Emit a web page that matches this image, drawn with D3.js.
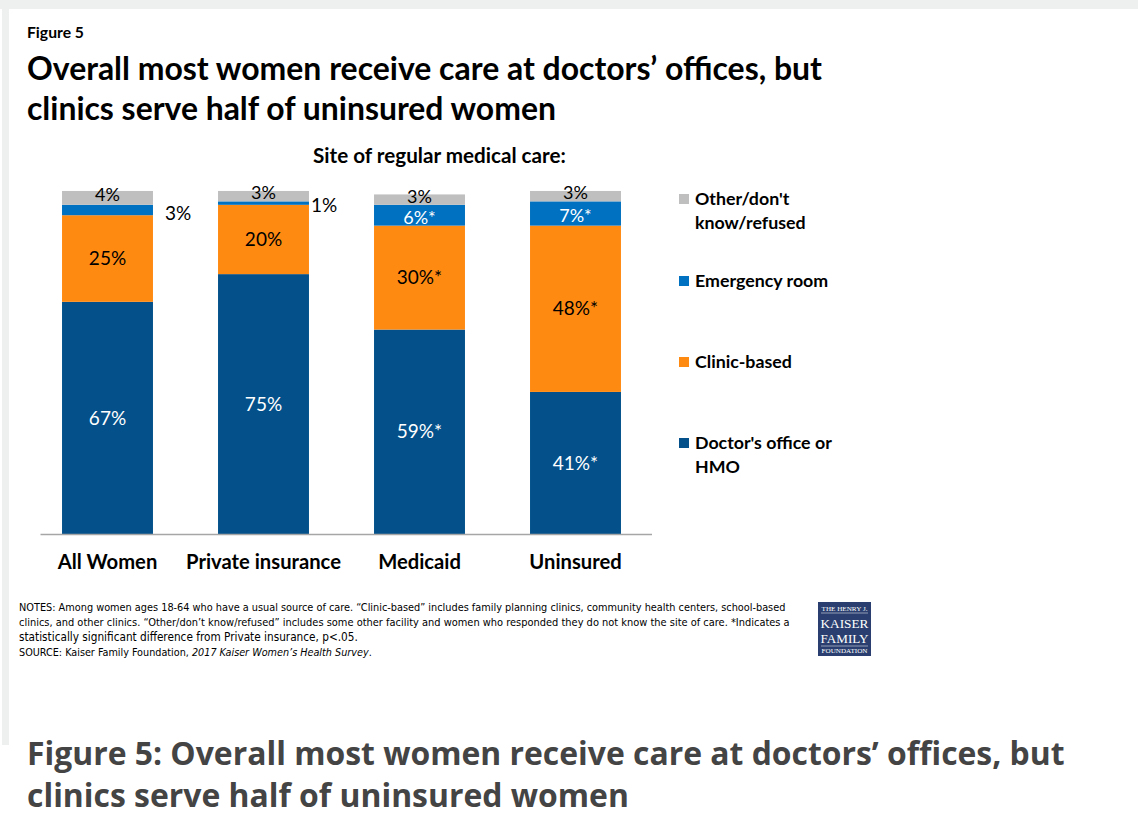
<!DOCTYPE html>
<html><head><meta charset="utf-8">
<script src="https://cdn.jsdelivr.net/npm/d3@7"></script>
<style>
html,body{margin:0;padding:0;background:#fff;}
svg{display:block;}
</style></head>
<body>
<svg id="c" width="1138" height="826"></svg>
<script>
const categories = ["All Women", "Private insurance", "Medicaid", "Uninsured"];
const seriesNames = ["Doctor's office or HMO", "Clinic-based", "Emergency room", "Other/don't know/refused"];
const doctorOffice = [67, 75, 59, 41];
const clinicBased = [25, 20, 30, 48];
const emergencyRoom = [3, 1, 6, 7];
const otherDontKnow = [4, 3, 3, 3];
const doctorLabels = ["67%", "75%", "59%*", "41%*"];
const clinicLabels = ["25%", "20%", "30%*", "48%*"];
const erLabels = ["3%", "1%", "6%*", "7%*"];
const otherLabels = ["4%", "3%", "3%", "3%"];
const colors = ["#03508a", "#ff8a12", "#0070c0", "#bfbfbf"];

const svg = d3.select("#c");
const FONT = "Lato, 'Open Sans', sans-serif";

function fit(sel, w) {
  const n = sel.node();
  const len = n.getComputedTextLength();
  const fs = parseFloat(sel.attr("font-size"));
  sel.attr("font-size", (fs * w / len).toFixed(2));
  return sel;
}

// frame
svg.append("rect").attr("x", 0).attr("y", 0).attr("width", 1138).attr("height", 826).attr("fill", "#fff");
svg.append("rect").attr("x", 0).attr("y", 0).attr("width", 1138).attr("height", 9).attr("fill", "#eef0f0");
svg.append("rect").attr("x", 2).attr("y", 0).attr("width", 7).attr("height", 745).attr("fill", "#eef0f0");

svg.append("text").attr("x", 27).attr("y", 38).attr("font-family", FONT).attr("font-weight", 700)
  .attr("font-size", 13).attr("fill", "#000").text("Figure 5").call(fit, 57);
svg.append("text").attr("x", 27).attr("y", 80).attr("font-family", FONT).attr("font-weight", 700)
  .attr("font-size", 27).attr("fill", "#000").text("Overall most women receive care at doctors\u2019 offices, but").call(fit, 795);
svg.append("text").attr("x", 27).attr("y", 120).attr("font-family", FONT).attr("font-weight", 700)
  .attr("font-size", 27).attr("fill", "#000").text("clinics serve half of uninsured women").call(fit, 529);

svg.append("text").attr("x", 313).attr("y", 163).attr("font-family", FONT).attr("font-weight", 700)
  .attr("font-size", 18).attr("fill", "#000").text("Site of regular medical care:").call(fit, 253);

// scales
const x = d3.scaleBand().domain(categories).range([29.5, 653.5]).paddingInner(0.417).paddingOuter(0.2085);
const y = d3.scaleLinear().domain([0, 100]).range([534, 187.5]);

const rows = categories.map((c, i) => ({
  cat: c,
  vals: [doctorOffice[i], clinicBased[i], emergencyRoom[i], otherDontKnow[i]],
  labels: [doctorLabels[i], clinicLabels[i], erLabels[i], otherLabels[i]]
}));
const segs = [];
rows.forEach(r => {
  let acc = 0;
  r.vals.forEach((v, k) => {
    segs.push({ cat: r.cat, k, y0: acc, y1: acc + v, label: r.labels[k], v });
    acc += v;
  });
});

svg.append("g").selectAll("rect").data(segs).join("rect")
  .attr("x", d => x(d.cat)).attr("width", x.bandwidth())
  .attr("y", d => y(d.y1)).attr("height", d => y(d.y0) - y(d.y1))
  .attr("fill", d => colors[d.k]);

// axis
const ax = svg.append("g").attr("transform", "translate(0,534)")
  .call(d3.axisBottom(x).tickSize(0).tickPadding(0));
ax.select(".domain").attr("d", "M40.5,0.5H652").attr("stroke", "#a6a6a6").attr("stroke-width", 1.3);
const tickTexts = ax.selectAll(".tick text").attr("font-family", FONT).attr("font-weight", 700).attr("font-size", 19)
  .attr("fill", "#000").attr("dy", 0).attr("y", 35);
let tfs = 19;
tickTexts.each(function(d) {
  if (d === "Private insurance") tfs = 19 * 155 / this.getComputedTextLength();
});
tickTexts.attr("font-size", tfs.toFixed(2));

// value labels
const outside = d => d.k === 2 && d.v < 4;
const outsideGap = { "All Women": 12, "Private insurance": 2 };
const outsideDy = { "All Women": 3, "Private insurance": 2 };
const innerDy = [0, 0, 2.5, -3];
svg.append("g").selectAll("text").data(segs).join("text")
  .attr("x", d => outside(d) ? x(d.cat) + x.bandwidth() + outsideGap[d.cat] : x(d.cat) + x.bandwidth() / 2)
  .attr("y", d => (y(d.y0) + y(d.y1)) / 2 + (outside(d) ? outsideDy[d.cat] : innerDy[d.k]))
  .attr("dy", "0.35em")
  .attr("text-anchor", d => outside(d) ? "start" : "middle")
  .attr("font-family", FONT).attr("font-size", d => (d.k >= 2 && !outside(d)) ? 18 : 19)
  .attr("fill", d => (d.k === 0 || (d.k === 2 && !outside(d))) ? "#fff" : "#000")
  .text(d => d.label);

// legend
const legendItems = [
  { k: 3, lines: ["Other/don't", "know/refused"], y: 199 },
  { k: 2, lines: ["Emergency room"], y: 281 },
  { k: 1, lines: ["Clinic-based"], y: 362 },
  { k: 0, lines: ["Doctor's office or", "HMO"], y: 443 }
];
const lg = svg.append("g");
legendItems.forEach(it => {
  lg.append("rect").attr("x", 679).attr("y", it.y - 5).attr("width", 10).attr("height", 10).attr("fill", colors[it.k]);
  it.lines.forEach((ln, j) => {
    lg.append("text").attr("x", 695).attr("y", it.y + 6 + j * 24).attr("font-family", FONT)
      .attr("font-weight", 700).attr("font-size", 17.8).attr("fill", "#000").text(ln);
  });
});

// notes
const NFONT = "'Liberation Sans Narrow', 'DejaVu Sans Condensed', sans-serif";
const notes = [
  { t: "NOTES:  Among  women  ages 18-64 who have a usual source of care. \u201cClinic-based\u201d includes family planning clinics, community health centers, school-based", w: 767, y: 611 },
  { t: "clinics, and other clinics. \u201cOther/don\u2019t know/refused\u201d  includes some other facility and women  who responded they  do not know the site of care. *Indicates a", w: 771, y: 626 },
  { t: "statistically significant difference from Private insurance, p<.05.", w: 339, y: 641 }
];
notes.forEach(n => {
  svg.append("text").attr("x", 19).attr("y", n.y).attr("font-family", NFONT).attr("font-size", 10.5)
    .attr("fill", "#000").text(n.t).call(fit, n.w);
});
const src = svg.append("text").attr("x", 19).attr("y", 656).attr("font-family", NFONT).attr("font-size", 10.5).attr("fill", "#000");
src.append("tspan").text("SOURCE:  Kaiser Family Foundation, ");
src.append("tspan").attr("font-style", "italic").text("2017 Kaiser Women\u2019s Health Survey");
src.append("tspan").text(".");
fit(src, 353);

// logo
const logo = svg.append("g").attr("transform", "translate(818,602)");
logo.append("rect").attr("width", 53).attr("height", 54).attr("fill", "#2a3f6f");
logo.append("line").attr("x1", 3).attr("x2", 50).attr("y1", 11).attr("y2", 11).attr("stroke", "#fff").attr("stroke-width", 0.5);
logo.append("line").attr("x1", 3).attr("x2", 50).attr("y1", 44).attr("y2", 44).attr("stroke", "#fff").attr("stroke-width", 0.5);
const LF = "'Liberation Serif', 'DejaVu Serif', serif";
[["THE HENRY J.", 9, 5, 46], ["KAISER", 26, 14, 48], ["FAMILY", 41, 14, 48], ["FOUNDATION", 51, 5, 46]].forEach(t => {
  logo.append("text").attr("x", 26.5).attr("y", t[1]).attr("text-anchor", "middle").attr("font-family", LF)
    .attr("font-size", t[2]).attr("fill", "#fff").text(t[0]).call(fit, t[3]);
});

// bottom caption
const CF = "'Open Sans', sans-serif";
svg.append("text").attr("x", 27).attr("y", 765).attr("font-family", CF).attr("font-weight", 700)
  .attr("font-size", 30).attr("fill", "#444").text("Figure 5: Overall most women receive care at doctors\u2019 offices, but").call(fit, 1038);
svg.append("text").attr("x", 27).attr("y", 807).attr("font-family", CF).attr("font-weight", 700)
  .attr("font-size", 30).attr("fill", "#444").text("clinics serve half of uninsured women").call(fit, 602);
</script>
</body></html>
